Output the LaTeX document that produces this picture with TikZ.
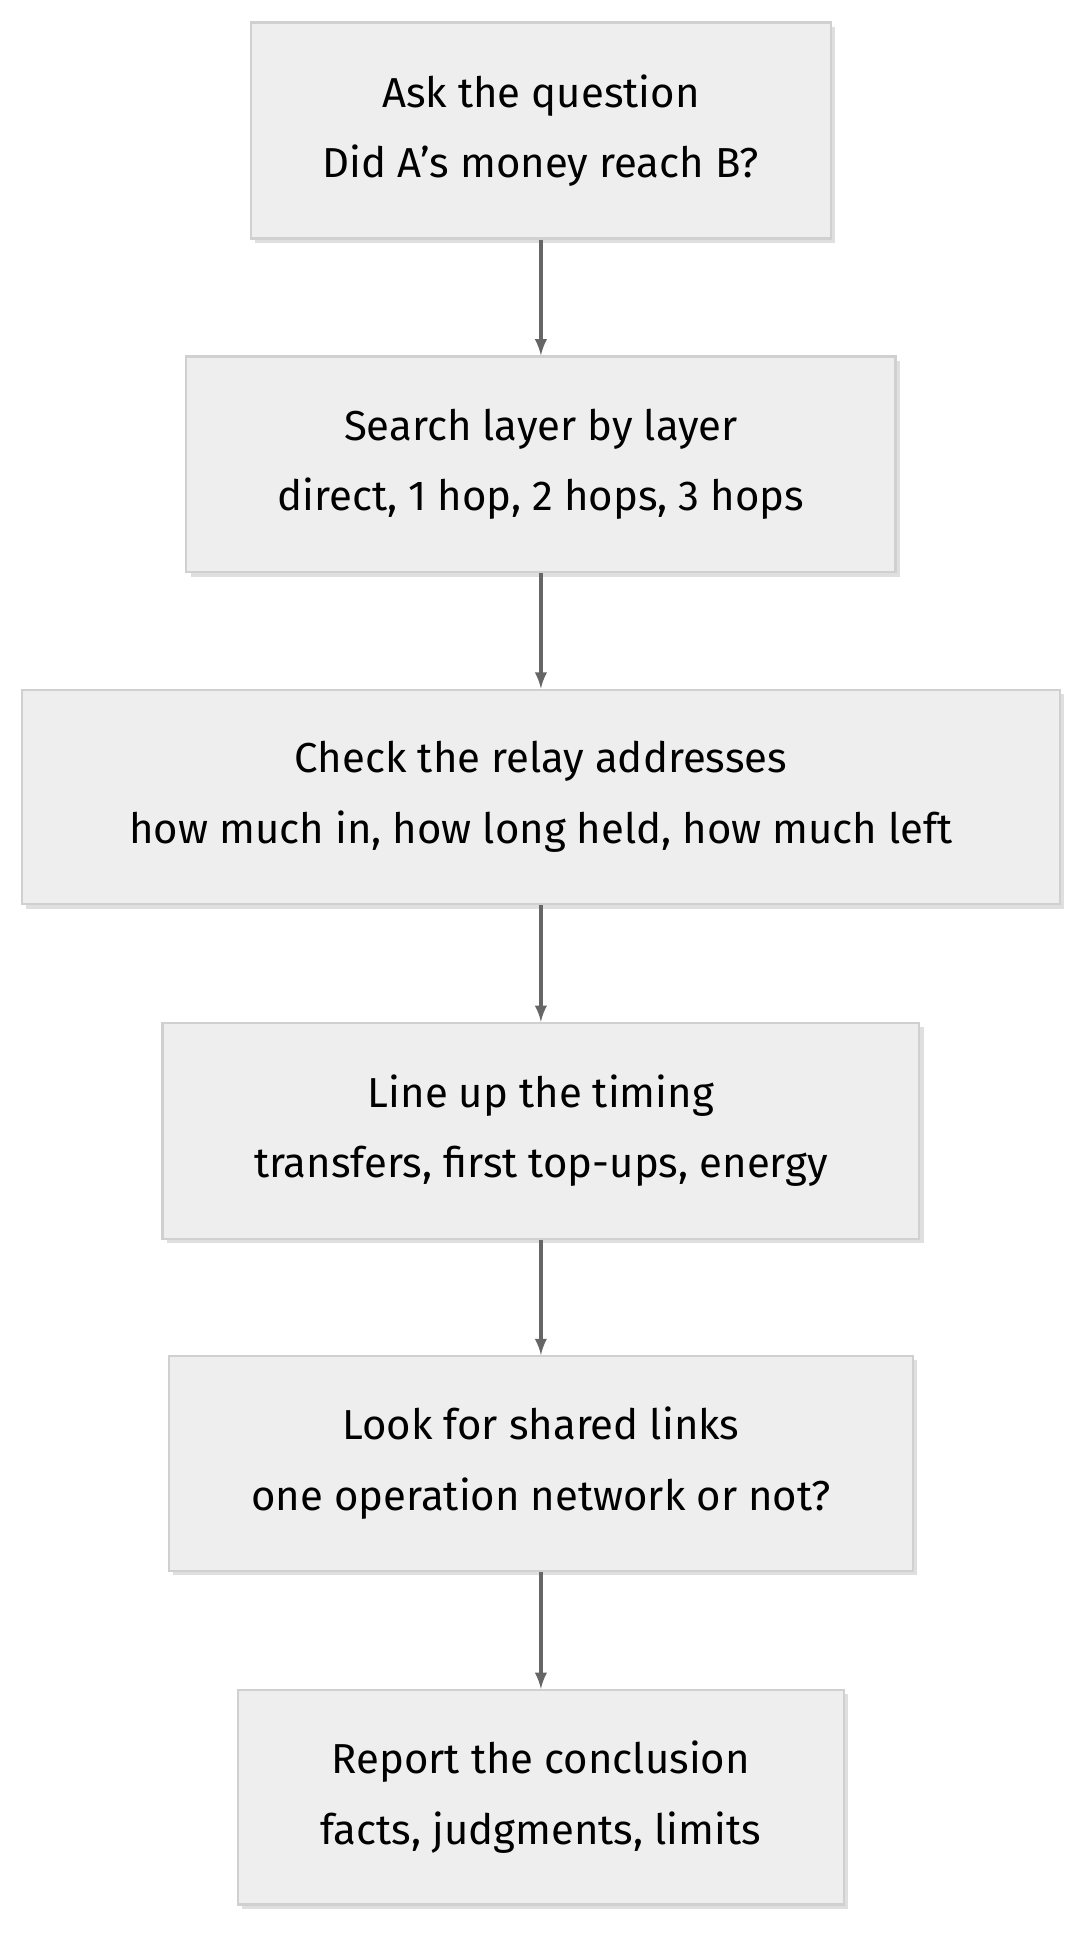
\documentclass[tikz,border=0pt]{standalone}
\usepackage{fontspec}
\setmainfont{Fira Sans}
\usetikzlibrary{shadows}
\definecolor{boxfill}{HTML}{EEEEEE}
\definecolor{boxline}{HTML}{D0D0D0}
\definecolor{arrowgrey}{HTML}{666666}
\begin{document}
\begin{tikzpicture}[x=0.02cm, y=-0.02cm, >=latex,
    stage/.style={draw=boxline, fill=boxfill, line width=1pt, align=center,
        font=\fontsize{19}{32}\selectfont, inner sep=0pt,
        drop shadow={opacity=0.25, shadow xshift=2pt, shadow yshift=-2pt}},
    link/.style={->, draw=arrowgrey, line width=1.5pt}]

    \useasboundingbox (0,0) rectangle (870,1549);

    % Stages
    \node[stage, minimum width=462*0.02cm, minimum height=172*0.02cm] at (431,104) (ask) {Ask the question\\Did A's money reach B?};
    \node[stage, minimum width=565*0.02cm, minimum height=172*0.02cm] at (431,370) (search) {Search layer by layer\\direct, 1 hop, 2 hops, 3 hops};
    \node[stage, minimum width=827*0.02cm, minimum height=171*0.02cm] at (431,635) (relay) {Check the relay addresses\\how much in, how long held, how much left};
    \node[stage, minimum width=603*0.02cm, minimum height=172*0.02cm] at (431,901) (timing) {Line up the timing\\transfers, first top-ups, energy};
    \node[stage, minimum width=593*0.02cm, minimum height=171*0.02cm] at (431,1166) (links) {Look for shared links\\one operation network or not?};
    \node[stage, minimum width=483*0.02cm, minimum height=171*0.02cm] at (431,1432) (report) {Report the conclusion\\facts, judgments, limits};

    % Flow
    \draw[link] (ask) -- (search);
    \draw[link] (search) -- (relay);
    \draw[link] (relay) -- (timing);
    \draw[link] (timing) -- (links);
    \draw[link] (links) -- (report);
\end{tikzpicture}
\end{document}
